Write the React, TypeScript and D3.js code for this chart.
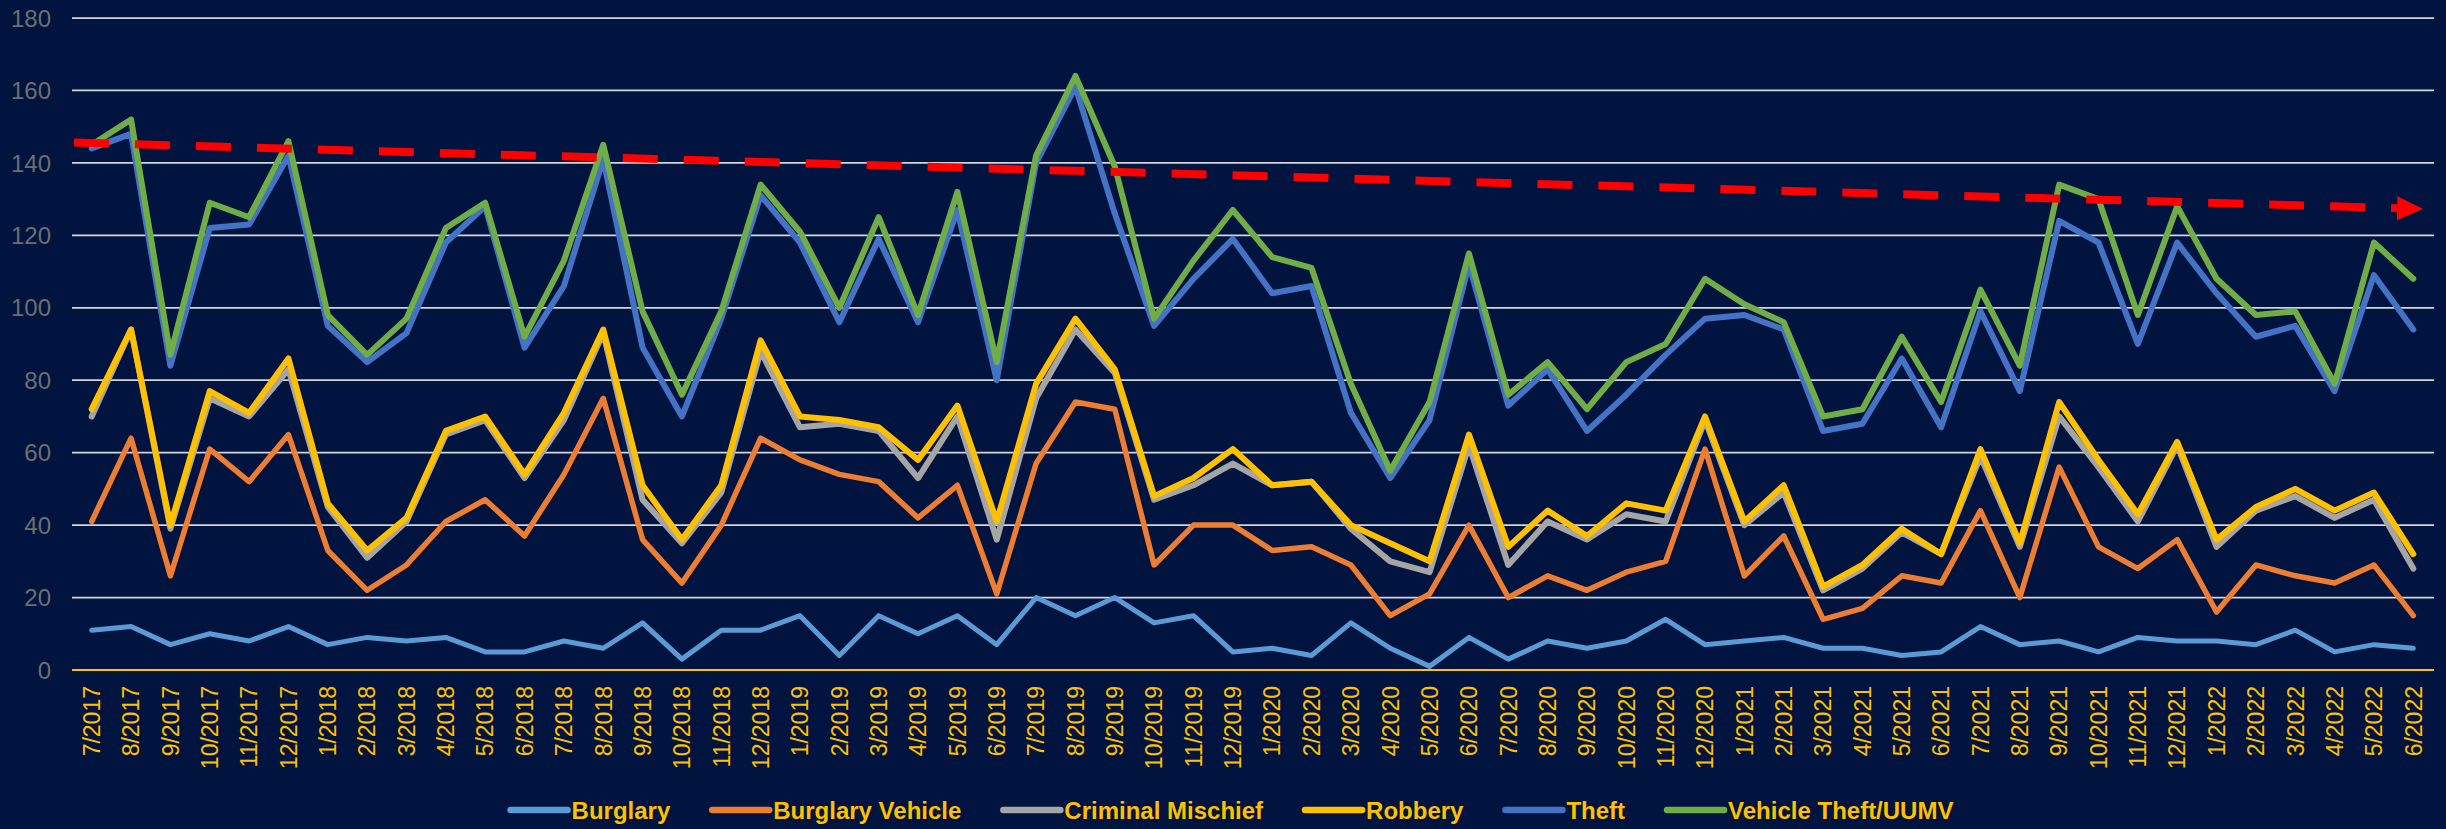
import React, { useEffect, useRef } from "react";
import * as d3 from "d3";

const months: string[] = [
  "7/2017","8/2017","9/2017","10/2017","11/2017","12/2017",
  "1/2018","2/2018","3/2018","4/2018","5/2018","6/2018","7/2018","8/2018","9/2018","10/2018","11/2018","12/2018",
  "1/2019","2/2019","3/2019","4/2019","5/2019","6/2019","7/2019","8/2019","9/2019","10/2019","11/2019","12/2019",
  "1/2020","2/2020","3/2020","4/2020","5/2020","6/2020","7/2020","8/2020","9/2020","10/2020","11/2020","12/2020",
  "1/2021","2/2021","3/2021","4/2021","5/2021","6/2021","7/2021","8/2021","9/2021","10/2021","11/2021","12/2021",
  "1/2022","2/2022","3/2022","4/2022","5/2022","6/2022",
];

const burglary: number[] = [11,12,7,10,8,12,7,9,8,9,5,5,8,6,13,3,11,11,15,4,15,10,15,7,20,15,20,13,15,5,6,4,13,6,1,9,3,8,6,8,14,7,8,9,6,6,4,5,12,7,8,5,9,8,8,7,11,5,7,6];
const burglaryVehicle: number[] = [41,64,26,61,52,65,33,22,29,41,47,37,54,75,36,24,40,64,58,54,52,42,51,21,57,74,72,29,40,40,33,34,29,15,21,40,20,26,22,27,30,61,26,37,14,17,26,24,44,20,56,34,28,36,16,29,26,24,29,15];
const criminalMischief: number[] = [70,94,39,75,70,83,45,31,41,65,69,53,69,93,47,35,49,88,67,68,66,53,70,36,75,94,82,47,51,57,51,52,39,30,27,62,29,41,36,43,41,69,40,49,22,28,38,32,59,34,70,56,41,62,34,44,48,42,47,28];
const robbery: number[] = [72,94,40,77,71,86,46,33,42,66,70,54,71,94,51,36,51,91,70,69,67,58,73,41,79,97,83,48,53,61,51,52,40,35,30,65,34,44,37,46,44,70,41,51,23,29,39,32,61,35,74,58,43,63,36,45,50,44,49,32];
const theft: number[] = [144,148,84,122,123,142,95,85,93,118,128,89,106,141,89,70,97,131,118,96,119,96,127,80,140,161,126,95,108,119,104,106,71,53,69,112,73,83,66,76,87,97,98,94,66,68,86,67,99,77,124,118,90,118,104,92,95,77,109,94];
const vehicleTheft: number[] = [145,152,87,129,125,146,98,87,97,122,129,92,113,145,99,76,99,134,121,100,125,98,132,85,142,164,139,97,113,127,114,111,79,55,74,115,76,85,72,85,90,108,101,96,70,72,92,74,105,84,134,130,98,128,108,98,99,79,118,108];

const seriesNames: string[] = ["Burglary","Burglary Vehicle","Criminal Mischief","Robbery","Theft","Vehicle Theft/UUMV"];
const seriesValues: number[][] = [burglary, burglaryVehicle, criminalMischief, robbery, theft, vehicleTheft];
const seriesColors: string[] = ["#5B9BD5","#ED7D31","#A5A5A5","#FFC000","#4472C4","#70AD47"];
const seriesWidths: number[] = [5, 5.5, 6, 6, 6, 6];

const yTicks: number[] = [0,20,40,60,80,100,120,140,160,180];

// trend line: [month index, value] at start and at arrow tip
const trendIdx: number[] = [-0.45, 59.25];
const trendVal: number[] = [145.6, 127.3];

const W = 2446;
const H = 829;
const BG = "#01133F";

export default function App() {
  const ref = useRef<SVGSVGElement | null>(null);

  useEffect(() => {
    document.body.style.margin = "0";
    document.body.style.background = BG;
    const svg = d3.select(ref.current);
    svg.selectAll("*").remove();

    const x = d3.scaleLinear().domain([0, months.length - 1]).range([91.7, 2413.3]);
    const y = d3.scaleLinear().domain([0, 180]).range([670, 18]);
    const gridX0 = 72, gridX1 = 2434;

    svg.append("rect").attr("width", W).attr("height", H).attr("fill", BG);

    // gridlines
    svg.append("g").selectAll("line").data(yTicks.filter((t) => t > 0)).join("line")
      .attr("x1", gridX0).attr("x2", gridX1)
      .attr("y1", (d) => y(d)).attr("y2", (d) => y(d))
      .attr("stroke", "#D4D4D4").attr("stroke-width", 1.75);

    // y labels
    svg.append("g").selectAll("text").data(yTicks).join("text")
      .attr("x", 51).attr("y", (d) => y(d)).attr("dy", "0.36em")
      .attr("text-anchor", "end")
      .attr("font-family", "'Liberation Sans', Arial, sans-serif")
      .attr("font-size", 24).attr("fill", "#6E6E6E")
      .text((d) => String(d));

    // x axis line
    svg.append("line").attr("x1", gridX0).attr("x2", gridX1)
      .attr("y1", y(0)).attr("y2", y(0))
      .attr("stroke", "#FFC000").attr("stroke-width", 2);

    // x labels
    svg.append("g").selectAll("text").data(months).join("text")
      .attr("transform", (_d, i) => `translate(${x(i)},${y(0) + 16}) rotate(-90)`)
      .attr("dy", "0.36em")
      .attr("text-anchor", "end")
      .attr("font-family", "'Liberation Sans', Arial, sans-serif")
      .attr("font-size", 23).attr("fill", "#FFC000")
      .text((d) => d);

    // series lines
    const line = d3.line<number>().x((_d, i) => x(i)).y((d) => y(d)).curve(d3.curveLinear);
    seriesValues.forEach((vals, k) => {
      svg.append("path").datum(vals)
        .attr("d", line)
        .attr("fill", "none")
        .attr("stroke", seriesColors[k])
        .attr("stroke-width", seriesWidths[k])
        .attr("stroke-linejoin", "round")
        .attr("stroke-linecap", "round");
    });

    // trend line with arrow
    const tx0 = x(trendIdx[0]), ty0 = y(trendVal[0]);
    const tx1 = x(trendIdx[1]), ty1 = y(trendVal[1]);
    const len = Math.hypot(tx1 - tx0, ty1 - ty0);
    const ux = (tx1 - tx0) / len, uy = (ty1 - ty0) / len;
    const headLen = 26, headHalf = 12;
    const bx = tx1 - ux * headLen, by = ty1 - uy * headLen;
    svg.append("line")
      .attr("x1", tx0).attr("y1", ty0).attr("x2", bx).attr("y2", by)
      .attr("stroke", "#FF0000").attr("stroke-width", 8)
      .attr("stroke-dasharray", "35 26");
    svg.append("path")
      .attr("d", `M${tx1},${ty1} L${bx - uy * headHalf},${by + ux * headHalf} L${bx + uy * headHalf},${by - ux * headHalf} Z`)
      .attr("fill", "#FF0000");

    // legend
    const legY = 810;
    const sw = 57, gapT = 4, gapItem = 42;
    const lg = svg.append("g");
    const items = seriesNames.map((name, k) => {
      const g = lg.append("g");
      g.append("line").attr("x1", 0).attr("x2", sw).attr("y1", 0).attr("y2", 0)
        .attr("stroke", seriesColors[k]).attr("stroke-width", 6.5).attr("stroke-linecap", "round");
      const t = g.append("text").attr("x", sw + gapT).attr("y", 0).attr("dy", "0.36em")
        .attr("font-family", "'Liberation Sans', Arial, sans-serif")
        .attr("font-weight", "bold").attr("font-size", 24).attr("fill", "#FFC000")
        .text(name);
      const tw = (t.node() as SVGTextElement).getComputedTextLength();
      return { g, w: sw + gapT + tw };
    });
    const total = items.reduce((s, it) => s + it.w, 0) + gapItem * (items.length - 1);
    let cx = 1232 - total / 2;
    items.forEach((it) => {
      it.g.attr("transform", `translate(${cx},${legY})`);
      cx += it.w + gapItem;
    });
  }, []);

  return <svg ref={ref} width={W} height={H} style={{ display: "block" }} />;
}
